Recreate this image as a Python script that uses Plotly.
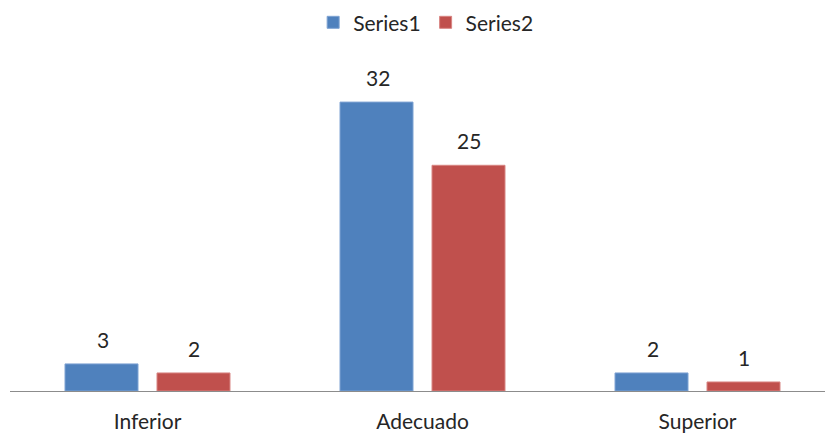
import plotly.graph_objects as go

categories = ["Inferior", "Adecuado", "Superior"]
series1 = [3, 32, 2]
series2 = [2, 25, 1]
series_names = ["Series1", "Series2"]

colors = ["#4F81BD", "#C0504D"]
borders = ["#7FA3D3", "#D88583"]
font_family = "Lato, 'Open Sans', sans-serif"
text_color = "#262626"
fs = 21

fig = go.Figure()
for name, vals, c, b in zip(series_names, [series1, series2], colors, borders):
    fig.add_trace(go.Bar(
        x=categories, y=vals, name=name,
        marker=dict(color=c, line=dict(color=b, width=1)),
    ))

# value labels above bars
for vals, shift in [(series1, -45), (series2, 46)]:
    for cat, v in zip(categories, vals):
        fig.add_annotation(
            x=cat, y=v, text=str(v), showarrow=False,
            xshift=shift, yshift=10, yanchor="bottom",
            font=dict(family=font_family, size=fs, color=text_color),
        )

fig.update_layout(
    width=825, height=434,
    margin=dict(l=10, r=0, t=75, b=43),
    paper_bgcolor="white", plot_bgcolor="white",
    barmode="group", bargap=0.331, bargroupgap=0.2065,
    showlegend=True,
    legend=dict(
        orientation="h", x=0.51, xanchor="center", y=0.995, yref="container",
        yanchor="top",
        font=dict(family=font_family, size=fs, color=text_color),
        itemwidth=30, traceorder="normal",
    ),
    font=dict(family=font_family, color=text_color),
)
fig.update_xaxes(
    range=[-0.5, 2.4636], showline=True, linecolor="#8C8C8C", linewidth=1,
    ticks="", showgrid=False, tickfont=dict(family=font_family, size=fs, color=text_color),
    ticklabelstandoff=12,
)
fig.update_yaxes(range=[0, 35], visible=False, showgrid=False)

fig.write_html("out.html")
